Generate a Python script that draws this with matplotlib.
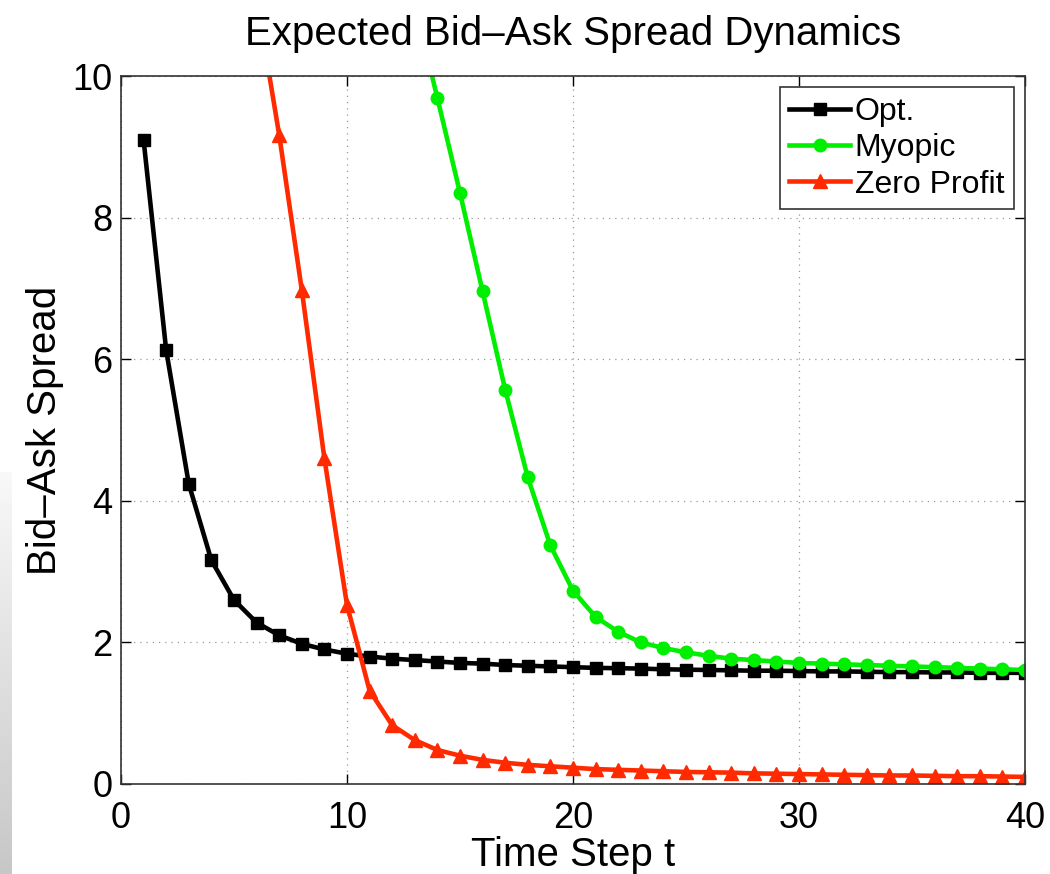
import numpy as np
import matplotlib
matplotlib.use('Agg')
import matplotlib.pyplot as plt

plt.rcParams['font.family'] = ['Liberation Sans', 'DejaVu Sans']

# values
t_opt = list(range(1, 41))
opt = [9.10, 6.13, 4.24, 3.16, 2.60, 2.28, 2.10, 1.98, 1.90, 1.84,
       1.80, 1.77, 1.75, 1.73, 1.71, 1.70, 1.68, 1.67, 1.66, 1.65,
       1.64, 1.635, 1.63, 1.62, 1.615, 1.61, 1.605, 1.60, 1.60, 1.595,
       1.59, 1.59, 1.585, 1.58, 1.58, 1.575, 1.575, 1.57, 1.57, 1.57]

t_myo = list(range(13, 41))
myopic = [11.0, 9.69, 8.35, 6.96, 5.57, 4.33, 3.37, 2.73, 2.36, 2.15,
          2.00, 1.92, 1.86, 1.81, 1.77, 1.75, 1.73, 1.71, 1.70, 1.69,
          1.68, 1.67, 1.66, 1.65, 1.64, 1.63, 1.62, 1.61]

t_zero = list(range(6, 41))
zero = [11.1, 9.17, 6.98, 4.60, 2.53, 1.32, 0.83, 0.62, 0.48, 0.40,
        0.34, 0.30, 0.27, 0.25, 0.23, 0.21, 0.20, 0.19, 0.18, 0.17,
        0.165, 0.16, 0.15, 0.145, 0.14, 0.135, 0.13, 0.125, 0.12, 0.12,
        0.115, 0.11, 0.11, 0.105, 0.10]

fig = plt.figure(figsize=(10.5, 8.74), dpi=100)

# grey shadow strip on the left edge of the screenshot
shade = fig.add_axes([0, 0, 0.011, 0.46])
shade.imshow(np.linspace(0.97, 0.78, 50).reshape(-1, 1), cmap='gray',
             vmin=0, vmax=1, aspect='auto', extent=(0, 1, 0, 1), origin='upper')
shade.axis('off')

ax = fig.add_axes([0.1152, 0.103, 0.861, 0.810])

ax.plot(t_opt, opt, color='black', lw=3.3, marker='s', ms=8, label='Opt.')
ax.plot(t_myo, myopic, color='#00ee00', lw=3.3, marker='o', ms=9, label='Myopic')
ax.plot(t_zero, zero, color='#ff2a00', lw=3.3, marker='^', ms=10, label='Zero Profit')

ax.set_xlim(0, 40)
ax.set_ylim(0, 10)
ax.set_xticks([0, 10, 20, 30, 40])
ax.set_yticks([0, 2, 4, 6, 8, 10])
ax.grid(True, linestyle=(0, (1, 4)), color='#999999', lw=0.9)
ax.tick_params(direction='in', top=True, right=True, length=7, width=1,
               labelsize=26)
ax.tick_params(axis='x', pad=12)
ax.tick_params(axis='y', pad=6)
for s in ax.spines.values():
    s.set_linewidth(1.2)
    s.set_color('#333333')

ax.set_title('Expected Bid\u2013Ask Spread Dynamics', fontsize=29, pad=22)
ax.set_xlabel('Time Step t', fontsize=29, labelpad=0)
ax.set_ylabel('Bid\u2013Ask Spread', fontsize=29, labelpad=6)

leg = ax.legend(loc='upper right', fontsize=23, handlelength=1.9,
                handletextpad=0.15, labelspacing=0.2, borderpad=0.3,
                fancybox=False, framealpha=1, borderaxespad=0.35)
leg.get_frame().set_edgecolor('#333333')
leg.get_frame().set_linewidth(1.2)

fig.savefig('out.png', dpi=100)
